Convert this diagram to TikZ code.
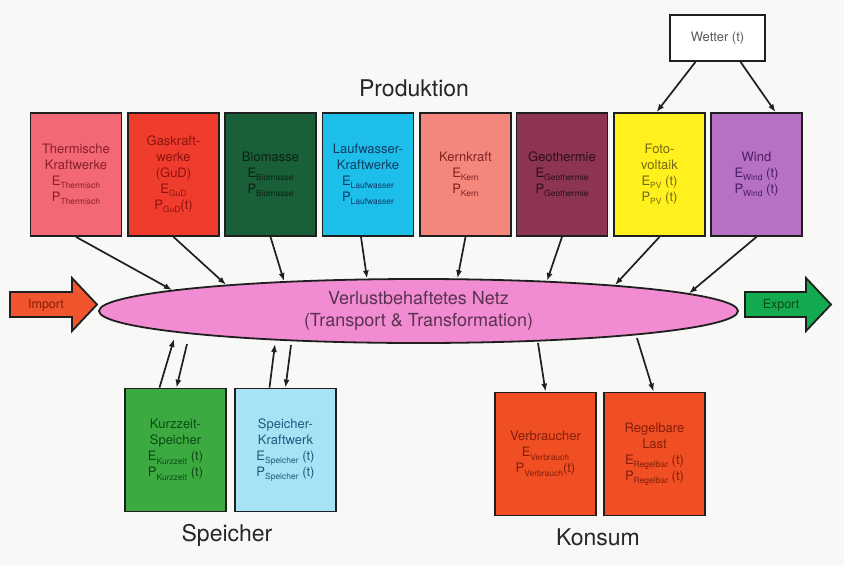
\documentclass[tikz,border=0pt]{standalone}
\usepackage{fontspec}
\setmainfont{TeX Gyre Heros}
\usetikzlibrary{shapes.geometric,arrows.meta}

\definecolor{hinterg}{RGB}{248,248,247}
\definecolor{thermf}{RGB}{242,104,116}\definecolor{thermt}{RGB}{140,30,45}
\definecolor{gudf}{RGB}{240,60,45}\definecolor{gudt}{RGB}{140,20,15}
\definecolor{biof}{RGB}{25,95,55}\definecolor{biot}{RGB}{10,35,20}
\definecolor{laufw}{RGB}{30,190,235}\definecolor{lauft}{RGB}{15,60,100}
\definecolor{kernf}{RGB}{244,134,124}\definecolor{kernt}{RGB}{130,35,35}
\definecolor{geof}{RGB}{140,52,80}\definecolor{geot}{RGB}{45,15,25}
\definecolor{pvf}{RGB}{255,240,30}\definecolor{pvt}{RGB}{115,105,20}
\definecolor{windf}{RGB}{182,112,196}\definecolor{windt}{RGB}{75,30,95}
\definecolor{kurzf}{RGB}{60,170,65}\definecolor{kurzt}{RGB}{10,75,20}
\definecolor{speif}{RGB}{168,226,245}\definecolor{speit}{RGB}{30,90,125}
\definecolor{konsf}{RGB}{240,78,35}\definecolor{konst}{RGB}{135,30,10}
\definecolor{netzf}{RGB}{242,140,210}\definecolor{netzt}{RGB}{90,50,80}
\definecolor{importf}{RGB}{240,85,45}\definecolor{exportf}{RGB}{20,170,80}

\newcommand{\Sub}[1]{\raisebox{-0.5ex}{\fontsize{8.5}{8.5}\selectfont #1}}

\begin{document}
\begin{tikzpicture}[x=1pt,y=-1pt,>={Latex[length=8pt,width=6pt]}]
\tikzset{
  anlage/.style={draw=black!88,line width=1.8pt,minimum width=91pt,minimum height=123pt,
    inner sep=1pt,align=center,font=\fontsize{13}{16}\selectfont},
  speicher/.style={anlage,minimum width=101pt},
  titel/.style={font=\fontsize{23}{23}\selectfont,text=black!85},
  fluss/.style={->,line width=1.7pt,draw=black!88},
  pfeil/.style={draw=black!88,line width=1.8pt}
}
\fill[hinterg] (0,0) rectangle (844,566);
\useasboundingbox (0,0) rectangle (844,566);

% Produktion
\node[titel] (produktion) at (414,88) {Produktion};
\node[anlage,fill=thermf,text=thermt] (thermisch) at (76,174.5) {Thermische\\Kraftwerke\\E\Sub{Thermisch}\\P\Sub{Thermisch}};
\node[anlage,fill=gudf,text=gudt] (gud) at (173.5,174.5) {Gaskraft-\\werke\\(GuD)\\E\Sub{GuD}\\P\Sub{GuD}(t)};
\node[anlage,fill=biof,text=biot] (bio) at (270.5,174.5) {Biomasse\\E\Sub{Biomasse}\\P\Sub{Biomasse}};
\node[anlage,fill=laufw,text=lauft] (lauf) at (368,174.5) {Laufwasser-\\Kraftwerke\\E\Sub{Laufwasser}\\P\Sub{Laufwasser}};
\node[anlage,fill=kernf,text=kernt] (kern) at (465.5,174.5) {Kernkraft\\E\Sub{Kern}\\P\Sub{Kern}};
\node[anlage,fill=geof,text=geot] (geo) at (562,174.5) {Geothermie\\E\Sub{Geothermie}\\P\Sub{Geothermie}};
\node[anlage,fill=pvf,text=pvt] (pv) at (659.5,174.5) {Foto-\\voltaik\\E\Sub{PV} (t)\\P\Sub{PV} (t)};
\node[anlage,fill=windf,text=windt] (wind) at (756.5,174.5) {Wind\\E\Sub{Wind} (t)\\P\Sub{Wind} (t)};

\node[pfeil,fill=white,minimum width=95pt,minimum height=46pt,text=black!65,
  font=\fontsize{13}{13}\selectfont] (wetter) at (717.5,38) {Wetter (t)};
\draw[fluss] ([xshift=-22pt]wetter.south) -- ([xshift=-3pt]pv.north);
\draw[fluss] ([xshift=23pt]wetter.south) -- ([xshift=19pt]wind.north);

% Netz
\node[ellipse,pfeil,fill=netzf,minimum width=639pt,minimum height=64pt,inner sep=0pt,
  align=center,text=netzt,font=\fontsize{18}{22}\selectfont] (netz) at (418.5,311)
  {Verlustbehaftetes Netz\\(Transport \& Transformation)};

% Punkte am Netzrand
\coordinate (nthermisch) at ([shift={(-246.5,-21)}]netz.center);
\coordinate (ngud) at ([shift={(-192.5,-26.3)}]netz.center);
\coordinate (nbio) at ([shift={(-134.5,-29.9)}]netz.center);
\coordinate (nlauf) at ([shift={(-51.5,-32.5)}]netz.center);
\coordinate (nkern) at ([shift={(39,-32.7)}]netz.center);
\coordinate (ngeo) at ([shift={(128.5,-30.1)}]netz.center);
\coordinate (npv) at ([shift={(196.5,-26)}]netz.center);
\coordinate (nwind) at ([shift={(270.5,-17.6)}]netz.center);

\draw[fluss] (thermisch.south) -- (nthermisch);
\draw[fluss] (gud.south) -- (ngud);
\draw[fluss] (bio.south) -- (nbio);
\draw[fluss] ([xshift=-7pt]lauf.south) -- (nlauf);
\draw[fluss] (kern.south) -- (nkern);
\draw[fluss] (geo.south) -- (ngeo);
\draw[fluss] (pv.south) -- (npv);
\draw[fluss] (wind.south) -- (nwind);

% Import / Export
\draw[pfeil,fill=importf] (10,292) -- (72,292) -- (72,278) -- (97,304.5) -- (72,331)
  -- (72,317) -- (10,317) -- cycle;
\node[text=konst,font=\fontsize{12.5}{12.5}\selectfont] (import) at (46,305) {Import};
\draw[pfeil,fill=exportf] (745,292) -- (806,292) -- (806,278) -- (831,304.5) -- (806,331)
  -- (806,317) -- (745,317) -- cycle;
\node[text=kurzt,font=\fontsize{12.5}{12.5}\selectfont] (export) at (781,305) {Export};

% Speicher
\node[speicher,fill=kurzf,text=kurzt] (kurz) at (175.5,450) {Kurzzeit-\\Speicher\\E\Sub{Kurzzeit} (t)\\P\Sub{Kurzzeit} (t)};
\node[speicher,fill=speif,text=speit] (skw) at (285.5,450) {Speicher-\\Kraftwerk\\E\Sub{Speicher} (t)\\P\Sub{Speicher} (t)};
\node[titel] (speichertitel) at (227,535) {Speicher};

\coordinate (kurzein) at ([shift={(-244.5,28)}]netz.center);
\coordinate (kurzaus) at ([shift={(-231.5,33)}]netz.center);
\coordinate (skwein) at ([shift={(-143.5,33)}]netz.center);
\coordinate (skwaus) at ([shift={(-127.5,34)}]netz.center);
\draw[fluss] ([xshift=-16pt]kurz.north) -- (kurzein);
\draw[fluss] (kurzaus) -- ([xshift=1pt]kurz.north);
\draw[fluss] ([xshift=-16pt]skw.north) -- (skwein);
\draw[fluss] (skwaus) -- (skw.north);

% Konsum
\node[speicher,fill=konsf,text=konst] (verbraucher) at (545.5,454) {Verbraucher\\E\Sub{Verbrauch}\\P\Sub{Verbrauch}(t)};
\node[speicher,fill=konsf,text=konst] (last) at (654.5,454) {Regelbare\\Last\\E\Sub{Regelbar} (t)\\P\Sub{Regelbar} (t)};
\node[titel] (konsum) at (598,537) {Konsum};

\coordinate (nverbraucher) at ([shift={(119.5,32)}]netz.center);
\coordinate (nlast) at ([shift={(218.5,27)}]netz.center);
\draw[fluss] (nverbraucher) -- (verbraucher.north);
\draw[fluss] (nlast) -- ([xshift=-1pt]last.north);
\end{tikzpicture}
\end{document}
